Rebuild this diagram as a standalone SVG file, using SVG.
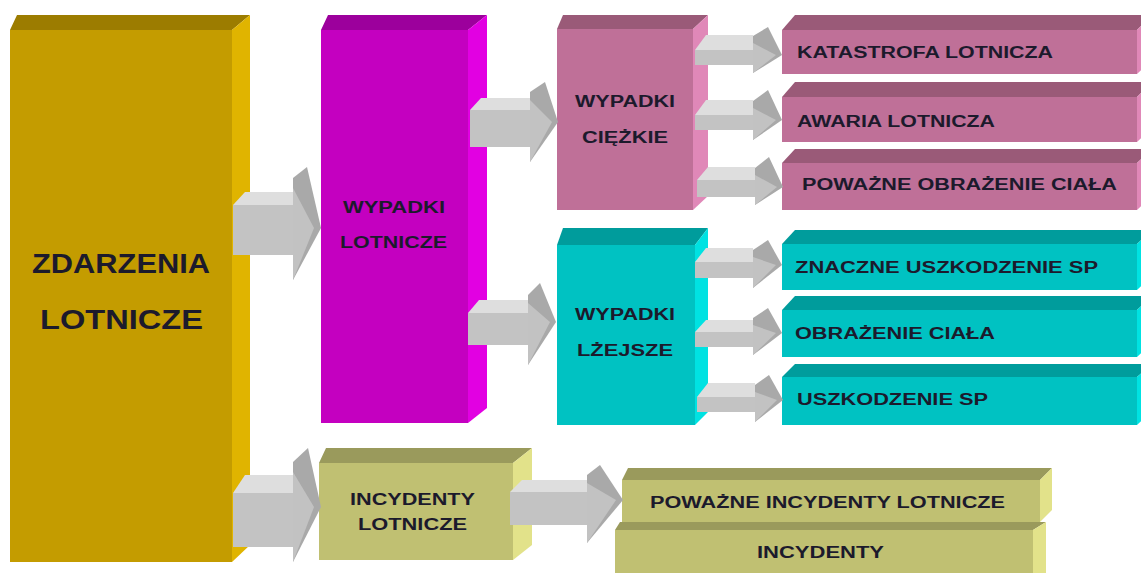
<svg xmlns="http://www.w3.org/2000/svg" width="1141" height="573" viewBox="0 0 1141 573">
<defs>
<style>
.t{font-family:"Liberation Sans",Arial,sans-serif;font-weight:bold;fill:#1c1a2c;}
.s{font-size:16px;}
.big{font-size:27px;}
.yf{fill:#C49C00}.yt{fill:#9C7C00}.ys{fill:#E0B400}
.mf{fill:#C400C0}.mt{fill:#9C009C}.ms{fill:#E200E2}
.pf{fill:#BF7098}.pt{fill:#9A5A78}.ps{fill:#E088B8}
.cf{fill:#00C2C2}.ct{fill:#009C9C}.cs{fill:#00E2E2}
.of{fill:#C0C072}.ot{fill:#9A9A5C}.os{fill:#E2E28A}
.ab{fill:#C3C3C3}.as{fill:#DEDEDE}.ad{fill:#A9A9A9}.al{fill:#C2C2C2}
</style>
</defs>
<rect width="1141" height="573" fill="#FFFFFF"/>

<g id="zdarzenia">
<polygon class="yt" points="10,30 17,15 250,15 232,30"/>
<polygon class="ys" points="232,30 250,15 250,545 232,562"/>
<rect class="yf" x="10" y="30" width="222" height="532"/>
<text class="t big" x="32" y="273" textLength="178" lengthAdjust="spacingAndGlyphs">ZDARZENIA</text>
<text class="t big" x="40" y="329" textLength="163" lengthAdjust="spacingAndGlyphs">LOTNICZE</text>
</g>

<g id="wypadki-lotnicze">
<polygon class="mt" points="321,30 328,15 487,15 468,30"/>
<polygon class="ms" points="468,30 487,15 487,408 468,423"/>
<rect class="mf" x="321" y="30" width="147" height="393"/>
<text class="t s" x="343" y="213" textLength="102" lengthAdjust="spacingAndGlyphs">WYPADKI</text>
<text class="t s" x="340" y="248" textLength="107" lengthAdjust="spacingAndGlyphs">LOTNICZE</text>
</g>

<g id="wypadki-ciezkie">
<polygon class="pt" points="557,29 563,15 708,15 693,29"/>
<polygon class="ps" points="693,29 708,15 708,196 693,210"/>
<rect class="pf" x="557" y="29" width="136" height="181"/>
<text class="t s" x="575" y="107" textLength="100" lengthAdjust="spacingAndGlyphs">WYPADKI</text>
<text class="t s" x="582" y="143" textLength="86" lengthAdjust="spacingAndGlyphs">CIĘŻKIE</text>
</g>

<g id="wypadki-lzejsze">
<polygon class="ct" points="557,245 563,228 708,228 695,245"/>
<polygon class="cs" points="695,245 708,228 708,412 695,425"/>
<rect class="cf" x="557" y="245" width="138" height="180"/>
<text class="t s" x="575" y="320" textLength="100" lengthAdjust="spacingAndGlyphs">WYPADKI</text>
<text class="t s" x="577" y="356" textLength="96" lengthAdjust="spacingAndGlyphs">LŻEJSZE</text>
</g>

<g id="katastrofa">
<polygon class="pt" points="782,30 795,15 1152,15 1137,30"/>
<polygon class="ps" points="1137,30 1152,15 1152,60 1137,74"/>
<rect class="pf" x="782" y="30" width="355" height="44"/>
<text class="t s" x="797" y="58" textLength="256" lengthAdjust="spacingAndGlyphs">KATASTROFA  LOTNICZA</text>
</g>

<g id="awaria">
<polygon class="pt" points="782,97 795,82 1152,82 1137,97"/>
<polygon class="ps" points="1137,97 1152,82 1152,128 1137,142"/>
<rect class="pf" x="782" y="97" width="355" height="45"/>
<text class="t s" x="797" y="127" textLength="198" lengthAdjust="spacingAndGlyphs">AWARIA  LOTNICZA</text>
</g>

<g id="powazne-obrazenie">
<polygon class="pt" points="782,163 795,149 1152,149 1137,163"/>
<polygon class="ps" points="1137,163 1152,149 1152,196 1137,210"/>
<rect class="pf" x="782" y="163" width="355" height="47"/>
<text class="t s" x="802" y="190" textLength="315" lengthAdjust="spacingAndGlyphs">POWAŻNE OBRAŻENIE CIAŁA</text>
</g>

<g id="znaczne-uszkodzenie">
<polygon class="ct" points="782,244 795,230 1152,230 1137,244"/>
<polygon class="cs" points="1137,244 1152,230 1152,276 1137,290"/>
<rect class="cf" x="782" y="244" width="355" height="46"/>
<text class="t s" x="795" y="273" textLength="303" lengthAdjust="spacingAndGlyphs">ZNACZNE USZKODZENIE SP</text>
</g>

<g id="obrazenie">
<polygon class="ct" points="782,310 795,296 1152,296 1137,310"/>
<polygon class="cs" points="1137,310 1152,296 1152,343 1137,357"/>
<rect class="cf" x="782" y="310" width="355" height="47"/>
<text class="t s" x="795" y="339" textLength="200" lengthAdjust="spacingAndGlyphs">OBRAŻENIE CIAŁA</text>
</g>

<g id="uszkodzenie">
<polygon class="ct" points="782,377 795,364 1152,364 1137,377"/>
<polygon class="cs" points="1137,377 1152,364 1152,411 1137,425"/>
<rect class="cf" x="782" y="377" width="355" height="48"/>
<text class="t s" x="797" y="405" textLength="191" lengthAdjust="spacingAndGlyphs">USZKODZENIE SP</text>
</g>

<g id="incydenty-lotnicze">
<polygon class="ot" points="319,463 326,448 532,448 513,463"/>
<polygon class="os" points="513,463 532,448 532,545 513,560"/>
<rect class="of" x="319" y="463" width="194" height="97"/>
<text class="t s" x="350" y="505" textLength="125" lengthAdjust="spacingAndGlyphs">INCYDENTY</text>
<text class="t s" x="358" y="530" textLength="109" lengthAdjust="spacingAndGlyphs">LOTNICZE</text>
</g>

<g id="incydenty">
<polygon class="ot" points="615,530 620,522 1046,522 1033,530"/>
<polygon class="os" points="1033,530 1046,522 1046,573 1033,573"/>
<rect class="of" x="615" y="530" width="418" height="43"/>
<text class="t s" x="757" y="558" textLength="127" lengthAdjust="spacingAndGlyphs">INCYDENTY</text>
</g>

<g id="powazne-incydenty">
<polygon class="ot" points="622,480 628,468 1052,468 1040,480"/>
<polygon class="os" points="1040,480 1052,468 1052,510 1040,522"/>
<rect class="of" x="622" y="480" width="418" height="42"/>
<text class="t s" x="650" y="508" textLength="355" lengthAdjust="spacingAndGlyphs">POWAŻNE INCYDENTY LOTNICZE</text>
</g>

<g id="connectors">
<!-- arrow 1: zdarzenia -> wypadki lotnicze -->
<g>
<polygon class="as" points="233,205 245,192 293,192 293,205"/>
<rect class="ab" x="233" y="205" width="60" height="50"/>
<polygon class="ad" points="293,178 307,167 321,228 293,280"/>
<polygon class="al" points="293,188 314,228 293,280"/>
</g>
<!-- arrow 2: zdarzenia -> incydenty lotnicze -->
<g>
<polygon class="as" points="233,493 245,475 293,475 293,493"/>
<rect class="ab" x="233" y="493" width="60" height="54"/>
<polygon class="ad" points="293,462 308,448 321,507 293,562"/>
<polygon class="al" points="293,472 314,507 293,562"/>
</g>
<!-- arrow 3: lotnicze -> ciezkie -->
<g>
<polygon class="as" points="470,110 481,98 530,98 530,110"/>
<rect class="ab" x="470" y="110" width="60" height="37"/>
<polygon class="ad" points="530,92 545,82 558,122 530,162"/>
<polygon class="al" points="530,100 552,122 530,162"/>
</g>
<!-- arrow 4: lotnicze -> lzejsze -->
<g>
<polygon class="as" points="468,313 479,300 528,300 528,313"/>
<rect class="ab" x="468" y="313" width="60" height="32"/>
<polygon class="ad" points="528,295 540,283 556,322 528,365"/>
<polygon class="al" points="528,303 550,322 528,365"/>
</g>
<!-- pink small arrows -->
<g>
<polygon class="as" points="695,50 706,35 753,35 753,50"/>
<rect class="ab" x="695" y="50" width="58" height="15"/>
<polygon class="ad" points="753,36 768,27 782,55 753,73"/>
<polygon class="al" points="753,43 776,55 753,73"/>
</g>
<g>
<polygon class="as" points="695,115 706,100 753,100 753,115"/>
<rect class="ab" x="695" y="115" width="58" height="15"/>
<polygon class="ad" points="753,101 768,90 782,120 753,140"/>
<polygon class="al" points="753,108 776,120 753,140"/>
</g>
<g>
<polygon class="as" points="697,180 708,167 755,167 755,180"/>
<rect class="ab" x="697" y="180" width="58" height="17"/>
<polygon class="ad" points="755,168 769,157 783,187 755,205"/>
<polygon class="al" points="755,175 777,187 755,205"/>
</g>
<!-- cyan small arrows -->
<g>
<polygon class="as" points="695,262 706,248 753,248 753,262"/>
<rect class="ab" x="695" y="262" width="58" height="16"/>
<polygon class="ad" points="753,250 768,240 782,265 753,288"/>
<polygon class="al" points="753,257 776,265 753,288"/>
</g>
<g>
<polygon class="as" points="695,332 706,320 753,320 753,332"/>
<rect class="ab" x="695" y="332" width="58" height="15"/>
<polygon class="ad" points="753,318 768,308 782,333 753,355"/>
<polygon class="al" points="753,325 776,333 753,355"/>
</g>
<g>
<polygon class="as" points="697,397 708,383 755,383 755,397"/>
<rect class="ab" x="697" y="397" width="58" height="15"/>
<polygon class="ad" points="755,385 769,375 783,400 755,422"/>
<polygon class="al" points="755,392 777,400 755,422"/>
</g>
<!-- olive arrow -->
<g>
<polygon class="as" points="510,492 522,480 587,480 587,492"/>
<rect class="ab" x="510" y="492" width="77" height="33"/>
<polygon class="ad" points="587,475 600,465 623,500 587,543"/>
<polygon class="al" points="587,483 616,500 587,543"/>
</g>
</g>
</svg>
